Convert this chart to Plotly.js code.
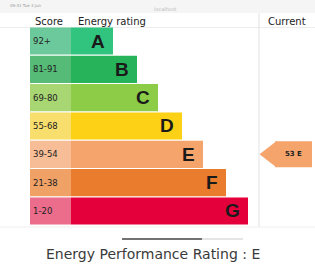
<!DOCTYPE html>
<html><head><meta charset="utf-8">
<script src="https://cdn.plot.ly/plotly-3.0.1.min.js"></script>
<style>html,body{margin:0;padding:0;background:#fff;}#c{width:315px;height:266px;}</style>
</head><body><div id="c"></div>
<script>
const ratings = ['A','B','C','D','E','F','G'];
const scoreRanges = ['92+','81-91','69-80','55-68','39-54','21-38','1-20'];
const barEnds = [113,137,158,182,203,226,248];
const mainColors = ['#30c47f','#27b35a','#8dcc47','#fdd116','#f5a46c','#ea7c2e','#e3003b'];
const scoreColors = ['#6cc99b','#55bb77','#a8d673','#f8de6c','#f7bd96','#efa166','#ec6c8b'];
const currentRating = 'E';
const currentScore = 53;
const titleText = 'Energy Performance Rating : ' + currentRating;

const scoreStart = 30, mainStart = 71, scoreWidth = mainStart - scoreStart;
const arrowTip = 263, arrowBody = 275, arrowEnd = 312;
const FONT = 'DejaVu Sans, Verdana, sans-serif';

const traces = [
  {type:'bar', orientation:'h', y:ratings, x:ratings.map(()=>scoreWidth), base:scoreStart,
   marker:{color:scoreColors, line:{width:0}}, width:0.96,
   text:scoreRanges, textposition:'inside', insidetextanchor:'start',
   textfont:{size:8.5, color:'#222', family:FONT}, hoverinfo:'none'},
  {type:'bar', orientation:'h', y:ratings, x:barEnds.map(e=>e-mainStart), base:mainStart,
   marker:{color:mainColors, line:{width:0}}, width:0.96, hoverinfo:'none'},
  {type:'bar', orientation:'h', y:[currentRating], x:[arrowEnd-arrowBody], base:arrowBody,
   marker:{color:'#f5a46c', line:{width:0}}, width:0.92,
   text:[currentScore+' '+currentRating], textposition:'inside', insidetextanchor:'middle',
   textfont:{size:7, color:'#222', family:FONT, weight:'bold'}, hoverinfo:'none'},
  {type:'scatter', mode:'markers', y:[currentRating], x:[arrowTip+7.5],
   marker:{symbol:'triangle-left', size:22, color:'#f5a46c', line:{width:0}}, hoverinfo:'none'}
];

const unit = 28.33;
const yTop = -41/unit;
const letterAnns = ratings.map((r,i)=>({text:r, xref:'x', yref:'y', x:barEnds[i]-6, y:r,
  xanchor:'right', yanchor:'middle', showarrow:false,
  font:{size:19, color:'#1a1a1a', family:'Liberation Sans, Arial', weight:'bold'}}));
const layout = {
  width:315, height:266, margin:{l:0,r:0,t:0,b:0}, showlegend:false,
  paper_bgcolor:'#fff', plot_bgcolor:'rgba(0,0,0,0)', barmode:'overlay',
  xaxis:{range:[0,315], visible:false, fixedrange:true},
  yaxis:{type:'category', categoryorder:'array', categoryarray:ratings,
         range:[yTop+266/unit, yTop], visible:false, fixedrange:true},
  shapes:[
    {type:'rect', xref:'paper', yref:'paper', x0:0, x1:1, y0:1, y1:1-13/266, fillcolor:'#f5f5f5', line:{width:0}, layer:'below'},
    {type:'line', xref:'x', yref:'paper', x0:259, x1:259, y0:1-13/266, y1:1-227/266, line:{color:'#e2e2e2', width:1}},
    {type:'line', xref:'paper', yref:'paper', x0:0, x1:1, y0:1-27.5/266, y1:1-27.5/266, line:{color:'#ededed', width:1}, layer:'below'},
    {type:'line', xref:'paper', yref:'paper', x0:0, x1:1, y0:1-227/266, y1:1-227/266, line:{color:'#efefef', width:1}, layer:'below'},
    {type:'line', xref:'x', yref:'paper', x0:122, x1:202, y0:1-239/266, y1:1-239/266, line:{color:'#444', width:1.5}},
    {type:'line', xref:'x', yref:'paper', x0:202, x1:243, y0:1-239/266, y1:1-239/266, line:{color:'#ddd', width:1.5}}
  ],
  annotations:letterAnns.concat([
    {text:'Score', xref:'x', yref:'paper', x:33, y:1-21/266, xanchor:'left', yanchor:'middle', showarrow:false, font:{size:10, color:'#222', family:FONT}},
    {text:'Energy rating', xref:'x', yref:'paper', x:76, y:1-21/266, xanchor:'left', yanchor:'middle', showarrow:false, font:{size:10, color:'#222', family:FONT}},
    {text:'Current', xref:'x', yref:'paper', x:287, y:1-21/266, xanchor:'center', yanchor:'middle', showarrow:false, font:{size:10, color:'#222', family:FONT}},
    {text:'09:41 Tue 3 Jun', xref:'x', yref:'paper', x:8, y:1-6/266, xanchor:'left', yanchor:'middle', showarrow:false, font:{size:4, color:'#999', family:FONT}},
    {text:'localhost', xref:'x', yref:'paper', x:165, y:1-9/266, xanchor:'center', yanchor:'middle', showarrow:false, font:{size:5, color:'#bbb', family:FONT}},
    {text:titleText, xref:'x', yref:'paper', x:152.5, y:1-254/266, xanchor:'center', yanchor:'middle', showarrow:false, font:{size:14, color:'#3a3a3a', family:FONT}}
  ])
};
Plotly.newPlot('c', traces, layout, {staticPlot:true, displayModeBar:false});
</script></body></html>
